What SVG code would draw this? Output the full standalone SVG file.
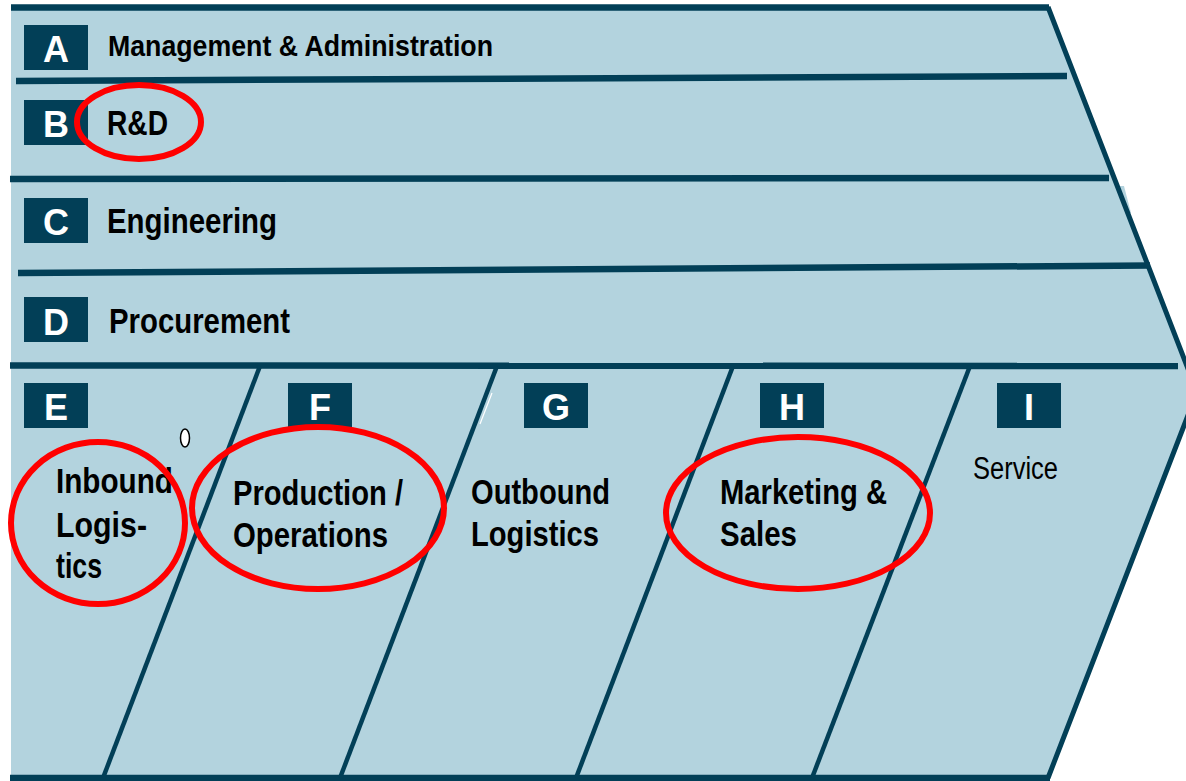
<svg xmlns="http://www.w3.org/2000/svg" width="1186" height="781" viewBox="0 0 1186 781">
  <style>
    .band { fill: #b3d3de; }
    .rule { stroke: #023f57; stroke-width: 6.5; fill: none; }
    .edge { stroke: #023f57; stroke-width: 5; fill: none; stroke-linejoin: miter; }
    .div { stroke: #023f57; stroke-width: 4.5; fill: none; }
    .tag { fill: #023f57; }
    .tagtxt { fill: #ffffff; font-family: "Liberation Sans", Arial, sans-serif; font-weight: bold; font-size: 36px; text-anchor: middle; }
    .lbl { fill: #000000; font-family: "Liberation Sans", Arial, sans-serif; font-weight: bold; font-size: 35px; }
    .lbl-sm { fill: #000000; font-family: "Liberation Sans", Arial, sans-serif; font-weight: bold; font-size: 30px; }
    .lbl-reg { fill: #000000; font-family: "Liberation Sans", Arial, sans-serif; font-weight: normal; font-size: 31px; }
    .mark { fill: none; stroke: #ff0000; stroke-width: 6; }
  </style>

  <!-- chevron body -->
  <polygon class="band" points="11,7 1048,7 1197,392 1048,778 11,778"/>
  <polygon class="band" points="1118,186 1124,186 1131,213 1126,213"/>
  <polygon class="band" points="1148,282 1153,282 1157,299 1152,299"/>

  <!-- outline and row / column rules -->
  <g id="connectors">
    <line class="rule" x1="11" y1="7.5" x2="1049" y2="7.5"/>
    <polyline class="edge" points="1048,7 1197,392 1048,778"/>
    <line class="rule" x1="16" y1="81" x2="1067" y2="76"/>
    <line class="rule" x1="10" y1="179" x2="1109" y2="178"/>
    <line class="rule" x1="18" y1="273" x2="1150" y2="265.5"/>
    <line class="rule" x1="10" y1="365.5" x2="1178" y2="366"/>
    <line class="rule" x1="10" y1="778" x2="1050" y2="778"/>
    <line class="div" x1="260" y1="366" x2="103" y2="778"/>
    <line class="div" x1="497" y1="366" x2="340" y2="778"/>
    <line class="div" x1="733" y1="366" x2="576" y2="778"/>
    <line class="div" x1="970" y1="366" x2="812" y2="778"/>
    <line x1="492" y1="393" x2="480" y2="424" stroke="#ffffff" stroke-width="1.2"/>
  </g>

  <!-- support activities -->
  <g id="node-a">
    <rect class="tag" x="24" y="25" width="64" height="45"/>
    <text class="tagtxt" x="56" y="62">A</text>
    <text class="lbl-sm" x="108" y="56" textLength="385" lengthAdjust="spacingAndGlyphs">Management &amp; Administration</text>
  </g>
  <g id="node-b">
    <rect class="tag" x="24" y="100" width="64" height="45"/>
    <text class="tagtxt" x="56" y="137">B</text>
    <text class="lbl" x="107" y="135" textLength="61" lengthAdjust="spacingAndGlyphs">R&amp;D</text>
  </g>
  <g id="node-c">
    <rect class="tag" x="24" y="198" width="64" height="45"/>
    <text class="tagtxt" x="56" y="235">C</text>
    <text class="lbl" x="107" y="233" textLength="170" lengthAdjust="spacingAndGlyphs">Engineering</text>
  </g>
  <g id="node-d">
    <rect class="tag" x="24" y="297" width="64" height="45"/>
    <text class="tagtxt" x="56" y="335">D</text>
    <text class="lbl" x="109" y="333" textLength="181" lengthAdjust="spacingAndGlyphs">Procurement</text>
  </g>

  <!-- primary activities -->
  <g id="node-e">
    <rect class="tag" x="24" y="383" width="64" height="45"/>
    <text class="tagtxt" x="56" y="420">E</text>
    <text class="lbl" x="56" y="493" textLength="117" lengthAdjust="spacingAndGlyphs">Inbound</text>
    <text class="lbl" x="56" y="537" textLength="91" lengthAdjust="spacingAndGlyphs">Logis-</text>
    <text class="lbl" x="56" y="578" textLength="46" lengthAdjust="spacingAndGlyphs">tics</text>
    <ellipse cx="185" cy="438" rx="4.5" ry="9" fill="#ffffff" stroke="#000000" stroke-width="1.5"/>
  </g>
  <g id="node-f">
    <rect class="tag" x="288" y="383" width="64" height="45"/>
    <text class="tagtxt" x="320" y="420">F</text>
    <text class="lbl" x="233" y="505" textLength="170" lengthAdjust="spacingAndGlyphs">Production /</text>
    <text class="lbl" x="233" y="547" textLength="155" lengthAdjust="spacingAndGlyphs">Operations</text>
  </g>
  <g id="node-g">
    <rect class="tag" x="524" y="383" width="64" height="45"/>
    <text class="tagtxt" x="556" y="420">G</text>
    <text class="lbl" x="471" y="504" textLength="139" lengthAdjust="spacingAndGlyphs">Outbound</text>
    <text class="lbl" x="471" y="546" textLength="128" lengthAdjust="spacingAndGlyphs">Logistics</text>
  </g>
  <g id="node-h">
    <rect class="tag" x="760" y="383" width="64" height="45"/>
    <text class="tagtxt" x="792" y="420">H</text>
    <text class="lbl" x="720" y="504" textLength="167" lengthAdjust="spacingAndGlyphs">Marketing &amp;</text>
    <text class="lbl" x="720" y="546" textLength="77" lengthAdjust="spacingAndGlyphs">Sales</text>
  </g>
  <g id="node-i">
    <rect class="tag" x="997" y="383" width="64" height="45"/>
    <text class="tagtxt" x="1029" y="420">I</text>
    <text class="lbl-reg" x="973" y="479" textLength="85" lengthAdjust="spacingAndGlyphs">Service</text>
  </g>

  <!-- red highlight rings -->
  <g id="highlights">
    <ellipse class="mark" cx="139" cy="122" rx="62" ry="37"/>
    <ellipse class="mark" cx="98" cy="523" rx="87" ry="81"/>
    <ellipse class="mark" cx="318" cy="508" rx="126" ry="81"/>
    <ellipse class="mark" cx="798" cy="513" rx="132" ry="76"/>
  </g>
</svg>
